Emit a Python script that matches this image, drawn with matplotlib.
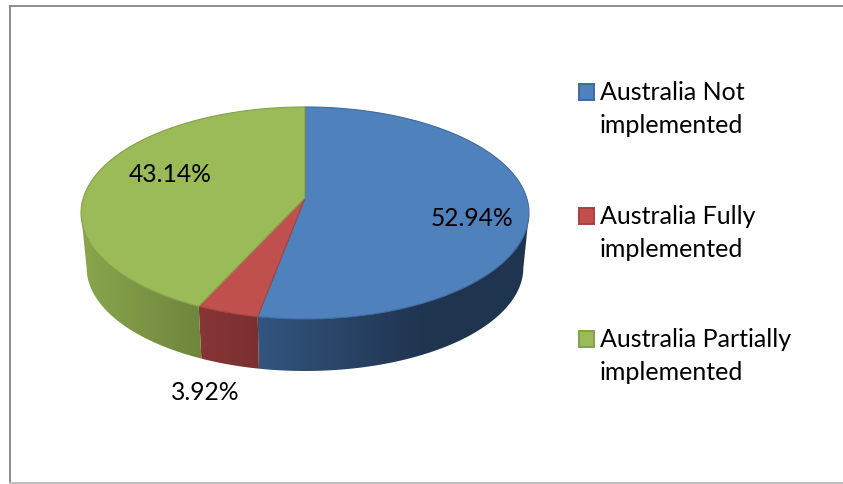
import numpy as np
import matplotlib
matplotlib.use('Agg')
from matplotlib import pyplot as plt
from matplotlib.patches import Polygon, Rectangle

categories = ['Australia Not\nimplemented', 'Australia Fully\nimplemented', 'Australia Partially\nimplemented']
values = [52.94, 3.92, 43.14]
top_colors = ['#4f81bd', '#c0504d', '#9bbb59']
edge_colors = ['#3d6a9f', '#a5423f', '#84a048']
side_left = ['#33557f', '#883636', '#8aa64e']
side_mid = ['#1f344f', '#7a2f2f', '#6f863c']
label_pos = [(472, 218), (205, 393), (170, 175)]
legend_y = [92, 216, 339]

plt.rcParams['font.family'] = ['Lato', 'DejaVu Sans']

cx, cy = 305, 198
A, B, p = 221.7, 103.9, 0.1415
base_scale, base_dy = 0.975, 55


def project(theta):
    # theta is clockwise from 12 o'clock, perspective tilt on the disc
    u, v = np.sin(theta), np.cos(theta)
    d = 1 + p * v
    return A * u / d, -B * v / d


def side_image(i, xa, xb):
    # one row gradient along x, blue goes flat after the first stretch
    a = np.array(matplotlib.colors.to_rgb(side_left[i]))
    b = np.array(matplotlib.colors.to_rgb(side_mid[i]))
    t = np.linspace(0, 1, 200)
    if i == 0:
        t = np.clip(t * (xb - xa) / 170, 0, 1)
    return (a + (b - a) * t[:, None])[None, :, :]


fig = plt.figure(frameon=False, figsize=(8.43, 4.84), dpi=100)
ax = plt.Axes(fig, [0., 0., 1., 1.])
ax.set_axis_off()
fig.add_axes(ax)

ax.plot([9.5, 9.5], [483, 6], color='#8c8c8c', lw=1.4)
ax.plot([9.5, 843], [6, 6], color='#8c8c8c', lw=1.4)
ax.plot([9.5, 843], [483, 483], color='#bdbdbd', lw=1.4)

edges = np.cumsum([0] + values) / sum(values) * 2 * np.pi

# side wall first, gradient image clipped to the wall outline
for i in range(len(values)):
    th = np.linspace(edges[i], edges[i + 1], 400)
    th = th[np.cos(th) <= -p]  # only the part in front of the widest point
    x, y = project(th)
    top = list(zip(cx + x, cy + y))
    bottom = list(zip(cx + x * base_scale, cy + base_dy + y * base_scale))
    wall = Polygon(top + bottom[::-1], closed=True, facecolor='none', edgecolor='none')
    ax.add_patch(wall)
    xa, xb = (cx + x).min() - 2, (cx + x).max() + 2
    im = ax.imshow(side_image(i, xa, xb), extent=(xa, xb, 484, 0), aspect='auto', zorder=1)
    im.set_clip_path(wall)

# top face
for i in range(len(values)):
    th = np.linspace(edges[i], edges[i + 1], 200)
    x, y = project(th)
    pts = [(cx, cy)] + list(zip(cx + x, cy + y))
    ax.add_patch(Polygon(pts, closed=True, facecolor=top_colors[i], edgecolor=edge_colors[i], lw=0.8, zorder=2))

for i in range(len(values)):
    ax.text(label_pos[i][0], label_pos[i][1], '%.2f%%' % values[i], fontsize=17.7,
            ha='center', va='center', color='black', zorder=3)

for i in range(len(categories)):
    ax.add_patch(Rectangle((578.5, legend_y[i] - 8), 15.5, 16, facecolor=top_colors[i],
                           edgecolor=edge_colors[i], lw=1.4, zorder=3))
    ax.text(600, legend_y[i] + 17, categories[i], fontsize=18, ha='left', va='center',
            color='black', linespacing=1.53, zorder=3)

ax.set_xlim(0, 843)
ax.set_ylim(484, 0)
fig.savefig('out.png', dpi=100)
